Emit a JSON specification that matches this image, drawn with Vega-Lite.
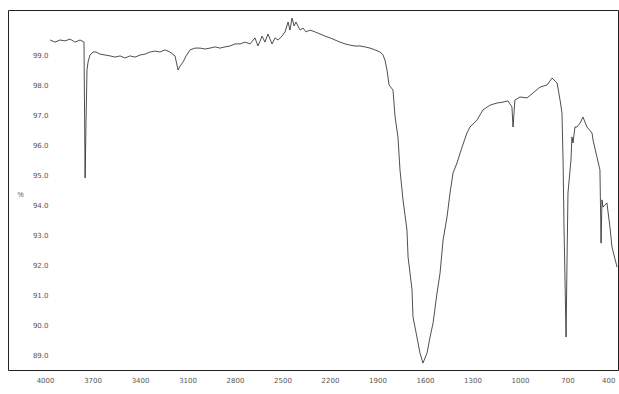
{
  "$schema": "https://vega.github.io/schema/vega-lite/v6.json",
  "width": 610,
  "height": 360,
  "autosize": {"type": "none"},
  "padding": {"left": 8, "top": 10, "right": 1, "bottom": 24},
  "background": "white",
  "config": {"view": {"stroke": "#222", "strokeWidth": 1}},
  "data": {"values": [
    {"wn": 3968, "t": 99.5}, {"wn": 3937, "t": 99.43}, {"wn": 3905, "t": 99.5}, {"wn": 3874, "t": 99.47},
    {"wn": 3842, "t": 99.53}, {"wn": 3811, "t": 99.43}, {"wn": 3779, "t": 99.5}, {"wn": 3754, "t": 99.43},
    {"wn": 3747, "t": 94.9}, {"wn": 3741, "t": 96.83}, {"wn": 3735, "t": 98.5}, {"wn": 3728, "t": 98.77},
    {"wn": 3716, "t": 99.0}, {"wn": 3697, "t": 99.1}, {"wn": 3678, "t": 99.1}, {"wn": 3653, "t": 99.03},
    {"wn": 3621, "t": 99.0}, {"wn": 3589, "t": 98.97}, {"wn": 3558, "t": 98.93}, {"wn": 3526, "t": 98.97},
    {"wn": 3495, "t": 98.9}, {"wn": 3463, "t": 98.97}, {"wn": 3432, "t": 98.93}, {"wn": 3400, "t": 99.0},
    {"wn": 3368, "t": 99.03}, {"wn": 3337, "t": 99.1}, {"wn": 3305, "t": 99.13}, {"wn": 3274, "t": 99.1},
    {"wn": 3242, "t": 99.17}, {"wn": 3211, "t": 99.1}, {"wn": 3179, "t": 98.97}, {"wn": 3160, "t": 98.5},
    {"wn": 3147, "t": 98.63}, {"wn": 3128, "t": 98.77}, {"wn": 3109, "t": 98.97}, {"wn": 3084, "t": 99.17},
    {"wn": 3053, "t": 99.23}, {"wn": 3021, "t": 99.23}, {"wn": 2989, "t": 99.2}, {"wn": 2958, "t": 99.23},
    {"wn": 2926, "t": 99.27}, {"wn": 2895, "t": 99.23}, {"wn": 2863, "t": 99.27}, {"wn": 2832, "t": 99.3},
    {"wn": 2800, "t": 99.37}, {"wn": 2768, "t": 99.37}, {"wn": 2737, "t": 99.43}, {"wn": 2705, "t": 99.37},
    {"wn": 2674, "t": 99.57}, {"wn": 2655, "t": 99.3}, {"wn": 2629, "t": 99.63}, {"wn": 2611, "t": 99.43},
    {"wn": 2592, "t": 99.7}, {"wn": 2566, "t": 99.37}, {"wn": 2547, "t": 99.57}, {"wn": 2528, "t": 99.5},
    {"wn": 2503, "t": 99.63}, {"wn": 2484, "t": 99.77}, {"wn": 2465, "t": 100.1}, {"wn": 2453, "t": 99.83},
    {"wn": 2440, "t": 100.23}, {"wn": 2427, "t": 99.97}, {"wn": 2415, "t": 100.1}, {"wn": 2389, "t": 99.83},
    {"wn": 2371, "t": 99.9}, {"wn": 2352, "t": 99.77}, {"wn": 2326, "t": 99.83}, {"wn": 2295, "t": 99.77},
    {"wn": 2263, "t": 99.7}, {"wn": 2232, "t": 99.63}, {"wn": 2200, "t": 99.57}, {"wn": 2168, "t": 99.5},
    {"wn": 2137, "t": 99.43}, {"wn": 2105, "t": 99.37}, {"wn": 2074, "t": 99.33}, {"wn": 2042, "t": 99.3},
    {"wn": 2011, "t": 99.3}, {"wn": 1979, "t": 99.27}, {"wn": 1947, "t": 99.23}, {"wn": 1916, "t": 99.17},
    {"wn": 1884, "t": 99.1}, {"wn": 1865, "t": 99.0}, {"wn": 1853, "t": 98.83}, {"wn": 1840, "t": 98.5},
    {"wn": 1827, "t": 98.0}, {"wn": 1802, "t": 97.83}, {"wn": 1789, "t": 96.93}, {"wn": 1771, "t": 96.27},
    {"wn": 1758, "t": 95.17}, {"wn": 1739, "t": 94.17}, {"wn": 1714, "t": 93.17}, {"wn": 1707, "t": 92.27},
    {"wn": 1682, "t": 91.17}, {"wn": 1676, "t": 90.27}, {"wn": 1651, "t": 89.6}, {"wn": 1632, "t": 89.07},
    {"wn": 1613, "t": 88.73}, {"wn": 1587, "t": 89.07}, {"wn": 1568, "t": 89.6}, {"wn": 1549, "t": 90.07},
    {"wn": 1524, "t": 91.07}, {"wn": 1505, "t": 91.73}, {"wn": 1486, "t": 92.83}, {"wn": 1461, "t": 93.6},
    {"wn": 1442, "t": 94.4}, {"wn": 1423, "t": 95.07}, {"wn": 1398, "t": 95.4}, {"wn": 1366, "t": 95.93},
    {"wn": 1335, "t": 96.4}, {"wn": 1316, "t": 96.6}, {"wn": 1272, "t": 96.83}, {"wn": 1234, "t": 97.17},
    {"wn": 1189, "t": 97.33}, {"wn": 1145, "t": 97.4}, {"wn": 1107, "t": 97.43}, {"wn": 1076, "t": 97.47},
    {"wn": 1051, "t": 97.27}, {"wn": 1044, "t": 96.6}, {"wn": 1032, "t": 97.5}, {"wn": 1000, "t": 97.6},
    {"wn": 956, "t": 97.57}, {"wn": 918, "t": 97.73}, {"wn": 874, "t": 97.93}, {"wn": 829, "t": 98.0},
    {"wn": 798, "t": 98.23}, {"wn": 766, "t": 98.07}, {"wn": 747, "t": 97.5}, {"wn": 735, "t": 97.07},
    {"wn": 728, "t": 95.5}, {"wn": 722, "t": 93.27}, {"wn": 709, "t": 89.6}, {"wn": 703, "t": 92.17},
    {"wn": 697, "t": 94.4}, {"wn": 678, "t": 95.5}, {"wn": 672, "t": 96.27}, {"wn": 665, "t": 96.07},
    {"wn": 653, "t": 96.6}, {"wn": 640, "t": 96.6}, {"wn": 621, "t": 96.73}, {"wn": 602, "t": 96.93},
    {"wn": 577, "t": 96.6}, {"wn": 545, "t": 96.4}, {"wn": 539, "t": 96.17}, {"wn": 514, "t": 95.6},
    {"wn": 495, "t": 95.17}, {"wn": 488, "t": 92.73}, {"wn": 482, "t": 94.17}, {"wn": 476, "t": 93.93},
    {"wn": 451, "t": 94.07}, {"wn": 432, "t": 93.27}, {"wn": 419, "t": 92.6}, {"wn": 387, "t": 91.93}
  ]},
  "mark": {"type": "line", "color": "#222", "strokeWidth": 0.8, "clip": true},
  "encoding": {
    "x": {
      "field": "wn", "type": "quantitative",
      "scale": {"domain": [381, 4234], "reverse": true, "nice": false, "zero": false},
      "axis": {
        "values": [4000, 3700, 3400, 3100, 2800, 2500, 2200, 1900, 1600, 1300, 1000, 700, 400],
        "format": "d", "labelFlush": 6,
        "title": null, "grid": false, "domain": false, "ticks": false,
        "labelFontSize": 7, "labelColor": "#555", "labelPadding": 6, "labelFont": "DejaVu Sans"
      }
    },
    "y": {
      "field": "t", "type": "quantitative",
      "scale": {"domain": [88.5, 100.5], "nice": false, "zero": false},
      "axis": {
        "values": [89, 90, 91, 92, 93, 94, 95, 96, 97, 98, 99],
        "format": ".1f",
        "title": "%", "titleAngle": 0, "titleX": -30, "titleY": 187, "titleFontSize": 7,
        "titleFontWeight": "normal", "titleColor": "#555",
        "offset": -42, "grid": false, "domain": false, "ticks": false,
        "labelFontSize": 7, "labelColor": "#555", "labelPadding": 2, "labelFont": "DejaVu Sans"
      }
    }
  }
}
